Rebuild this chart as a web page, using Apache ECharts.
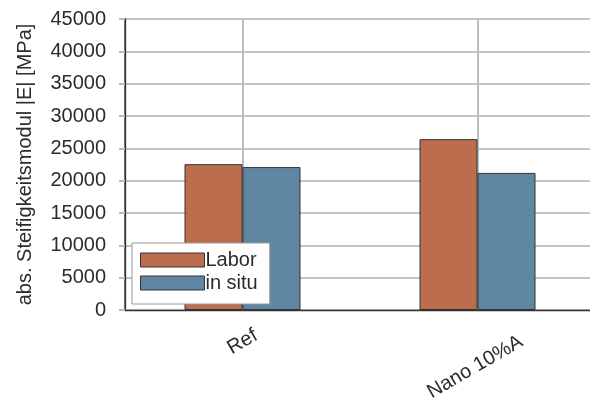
<!DOCTYPE html>
<html><head><meta charset="utf-8">
<script src="https://cdn.jsdelivr.net/npm/echarts@6/dist/echarts.min.js"></script>
<style>html,body{margin:0;padding:0;background:#fff}#c{width:590px;height:399px}</style>
</head><body><div id="c"></div>
<script>
const categories = ['Ref', 'Nano 10%A'];
const laborValues = [22550, 26420];
const inSituValues = [22100, 21200];
const seriesNames = ['Labor', 'in situ'];
const yAxisName = 'abs. Steifigkeitsmodul |E| [MPa]';

const FONT = '"Liberation Sans", Arial, sans-serif';
const TXT = '#2b2b2b';
const chart = echarts.init(document.getElementById('c'));
chart.setOption({
  animation: false,
  backgroundColor: '#fff',
  grid: { left: 125, top: 19, width: 470, height: 291, containLabel: false, outerBoundsMode: 'none', show: true, borderColor: '#333', borderWidth: 1.3, backgroundColor: 'transparent' },
  legend: {
    orient: 'vertical', left: 132, top: 243,
    data: seriesNames,
    itemWidth: 64, itemHeight: 14, itemGap: 3,
    padding: [7, 12, 11, 8],
    borderColor: '#999', borderWidth: 1, backgroundColor: '#fff',
    icon: 'rect',
    itemStyle: { borderWidth: 1 },
    textStyle: { fontFamily: FONT, fontSize: 20, color: TXT, padding: [0, 0, 0, -4] }
  },
  xAxis: {
    type: 'category',
    data: categories,
    axisLine: { show: true, lineStyle: { color: '#333', width: 1.3 } },
    axisTick: { show: false },
    splitLine: { show: false },
    axisLabel: {
      interval: 0, rotate: 30, align: 'center', verticalAlign: 'middle', margin: 32,
      fontFamily: FONT, fontSize: 20, color: TXT,
      formatter: (v, i) => i === 1 ? '{s| }\n{n|' + v + '}{p| }' : '{n|' + v + '}',
      rich: {
        n: { fontFamily: FONT, fontSize: 20, color: TXT, lineHeight: 20 },
        s: { fontSize: 1, lineHeight: 41 },
        p: { fontSize: 1, width: 29 }
      }
    }
  },
  yAxis: {
    type: 'value', min: 0, max: 45000, interval: 5000,
    name: yAxisName, nameLocation: 'middle', nameGap: 90,
    nameTextStyle: { fontFamily: FONT, fontSize: 20, color: TXT },
    axisLine: { show: true, lineStyle: { color: '#333', width: 1.3 } },
    axisTick: { show: true, inside: false, length: 6, lineStyle: { color: '#bbb', width: 2 } },
    splitLine: { show: true, lineStyle: { color: '#c4c4c4', width: 2 } },
    axisLabel: { margin: 19, fontFamily: FONT, fontSize: 20, color: TXT, formatter: v => String(v) }
  },
  series: [
    {
      name: 'grid-v', type: 'line', data: [], silent: true,
      markLine: {
        silent: true, symbol: 'none', z: 1,
        label: { show: false },
        lineStyle: { color: '#bdbdbd', width: 2, type: 'solid' },
        data: categories.map(c => ({ xAxis: c }))
      }
    },
    {
      name: seriesNames[0], type: 'bar', data: laborValues, barWidth: 58, barGap: '0%', z: 3,
      itemStyle: { color: '#bb6d4e', borderColor: '#333', borderWidth: 1 }
    },
    {
      name: seriesNames[1], type: 'bar', data: inSituValues, barWidth: 58, barGap: '0%', z: 3,
      itemStyle: { color: '#5f87a3', borderColor: '#333', borderWidth: 1 }
    }
  ]
});
</script></body></html>
